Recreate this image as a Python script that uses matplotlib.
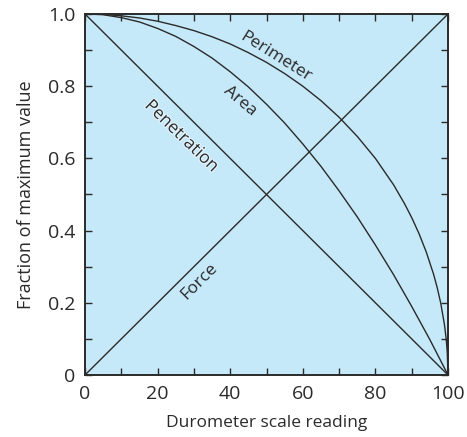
import matplotlib
matplotlib.use("Agg")
from matplotlib import pyplot as plt
from matplotlib.ticker import MultipleLocator
import matplotlib.patheffects as pe

plt.rcParams['font.family'] = ['Open Sans', 'DejaVu Sans']

# durometer scale reading
x_lin = [0, 100]
force = [0.0, 1.0]
penetration = [1.0, 0.0]

x_area = [0, 5, 10, 15, 20, 25, 30, 35, 40, 45, 50, 55, 60, 65, 70, 75, 80, 85, 90, 95, 100]
area = [1.0, 0.998, 0.99, 0.978, 0.96, 0.938, 0.91, 0.878, 0.84, 0.798, 0.75, 0.698,
        0.64, 0.578, 0.51, 0.438, 0.36, 0.278, 0.19, 0.098, 0.0]

x_per = [0, 5, 10, 15, 20, 25, 30, 35, 40, 45, 50, 55, 60, 65, 70, 75, 80, 85, 88,
         90, 92, 94, 96, 97, 98, 99, 99.5, 99.8, 100]
perimeter = [1.0, 0.999, 0.995, 0.989, 0.98, 0.968, 0.954, 0.937, 0.917, 0.893, 0.866,
             0.835, 0.80, 0.760, 0.714, 0.661, 0.60, 0.527, 0.475, 0.436, 0.392, 0.341,
             0.280, 0.243, 0.199, 0.141, 0.100, 0.063, 0.0]

bg = '#c6e9f9'
ink = '#2a2a2a'

fig = plt.figure(figsize=(4.67, 4.37), dpi=100)
ax = fig.add_axes([85/467, 62/437, 363/467, 361/437])
ax.set_facecolor(bg)

lw = 1.0
ax.plot(x_lin, force, color=ink, lw=lw)
ax.plot(x_lin, penetration, color=ink, lw=lw)
ax.plot(x_area, area, color=ink, lw=lw)
ax.plot(x_per, perimeter, color=ink, lw=lw)

ax.set_xlim(0, 100)
ax.set_ylim(0, 1)
ax.xaxis.set_major_locator(MultipleLocator(20))
ax.xaxis.set_minor_locator(MultipleLocator(10))
ax.yaxis.set_minor_locator(MultipleLocator(0.1))
ax.set_yticks([0, 0.2, 0.4, 0.6, 0.8, 1.0])
ax.set_yticklabels(['0', '0.2', '0.4', '0.6', '0.8', '1.0'])
ax.tick_params(which='both', direction='in', top=True, right=True, color=ink,
               labelsize=14, labelcolor=ink, width=1.0)
ax.tick_params(which='major', length=5)
ax.tick_params(which='minor', length=5)
ax.tick_params(axis='x', which='major', pad=7)
ax.tick_params(axis='y', which='major', pad=7)
for s in ax.spines.values():
    s.set_linewidth(1.4)
    s.set_color(ink)

ax.set_xlabel('Durometer scale reading', fontsize=12.5, color=ink, labelpad=9)
ax.set_ylabel('Fraction of maximum value', fontsize=13, color=ink, labelpad=9)

fs = 12.5
ax.text(52.5, 0.88, 'Perimeter', rotation=-32, fontsize=fs, color=ink, ha='center', va='center')
ax.text(42.7, 0.76, 'Area', rotation=-40, fontsize=fs, color=ink, ha='center', va='center')
ax.text(26.5, 0.66, 'Penetration', rotation=-44, fontsize=fs, color=ink, ha='center', va='center',
        path_effects=[pe.withStroke(linewidth=1.5, foreground='#e8f6fd')])
ax.text(31.5, 0.26, 'Force', rotation=45, fontsize=fs, color=ink, ha='center', va='center')

fig.savefig('out.png', dpi=100)
